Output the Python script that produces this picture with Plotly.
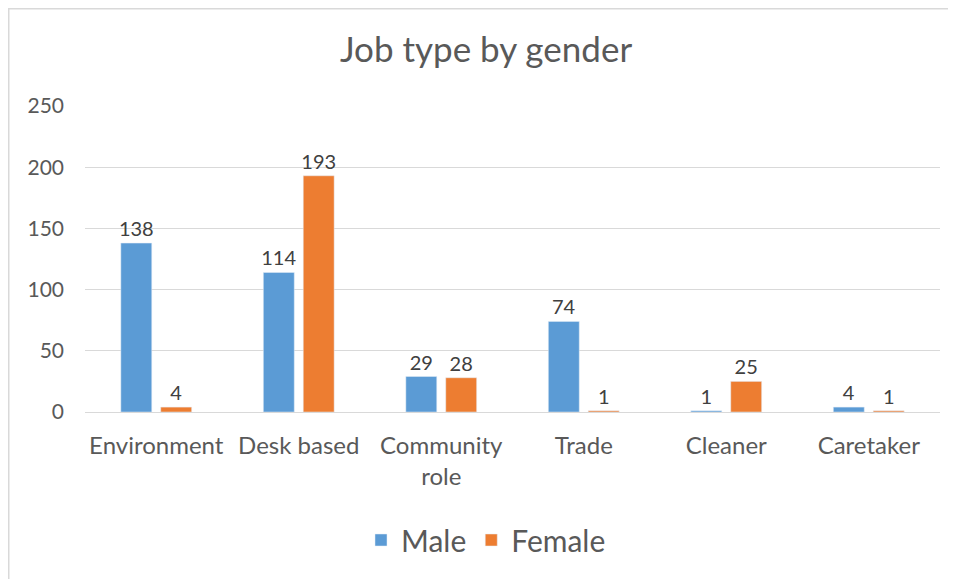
import plotly.graph_objects as go

categories = ["Environment", "Desk based", "Community<br>role", "Trade", "Cleaner", "Caretaker"]
male = [138, 114, 29, 74, 1, 4]
female = [4, 193, 28, 1, 25, 1]

FONT = "Lato, Calibri, sans-serif"
GREY = "#595959"

# plot area in figure pixels (the page adds an 8px body margin)
L, R, T, B = 77, 932, 98, 404
W, H = 956, 579

fig = go.Figure()
fig.add_trace(go.Bar(x=categories, y=male, name="Male", marker_color="#5B9BD5",
                     text=male, textposition="outside",
                     cliponaxis=False, constraintext="none",
                     textfont=dict(size=20, color="#404040")))
fig.add_trace(go.Bar(x=categories, y=female, name="Female", marker_color="#ED7D31",
                     text=female, textposition="outside",
                     cliponaxis=False, constraintext="none",
                     textfont=dict(size=20, color="#404040")))

# chart border (the picture is cropped right and bottom)
pw, ph = R - L, B - T
fig.add_shape(type="rect", xref="paper", yref="paper",
              x0=(0.75 - L) / pw, x1=(W + 20 - L) / pw,
              y0=(B - H - 20) / ph, y1=(B - 0.75) / ph,
              line=dict(color="#d9d9d9", width=1.5), layer="below")

fig.update_layout(
    width=W, height=H,
    margin=dict(l=L, r=W - R, t=T, b=H - B),
    paper_bgcolor="white", plot_bgcolor="white",
    font=dict(family=FONT, color=GREY),
    title=dict(text="Job type by gender", x=0.5, xanchor="center",
               y=1 - 42 / H, yanchor="middle", yref="container",
               font=dict(size=35, color=GREY)),
    barmode="group", bargap=0.44, bargroupgap=0.225,
    legend=dict(orientation="h", x=(W / 2 - L) / pw, xanchor="center",
                y=(B - 532) / ph, yanchor="middle",
                font=dict(size=30, color=GREY)),
    yaxis=dict(range=[0, 250], dtick=50, gridcolor="#d9d9d9", gridwidth=1,
               zeroline=False, showline=False, ticks="",
               tickfont=dict(size=21, color=GREY), ticklabelstandoff=20),
    xaxis=dict(showline=True, linecolor="#d9d9d9", linewidth=1, ticks="",
               tickfont=dict(size=24, color=GREY), ticklabelstandoff=12),
    showlegend=True,
)

fig.write_html("out.html")
